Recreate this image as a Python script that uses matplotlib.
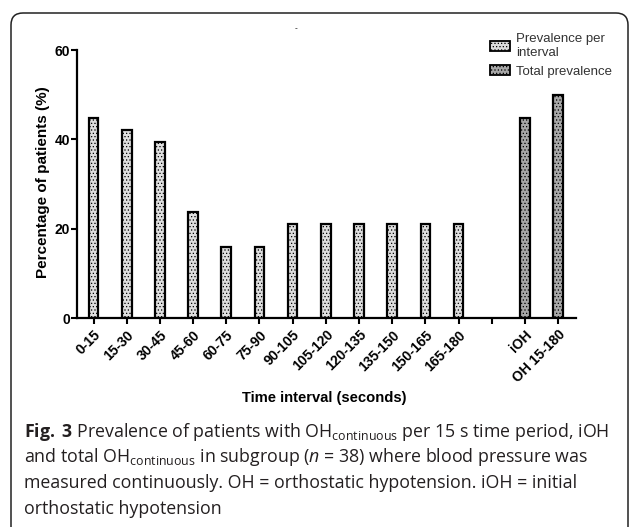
import matplotlib
matplotlib.use("Agg")
import matplotlib.pyplot as plt
import numpy as np
from matplotlib.patches import FancyBboxPatch, Patch
from matplotlib.transforms import IdentityTransform

# Data
interval_labels = ['0-15', '15-30', '30-45', '45-60', '60-75', '75-90', '90-105',
                   '105-120', '120-135', '135-150', '150-165', '165-180']
interval_values = [44.7, 42.1, 39.5, 23.7, 15.8, 15.8, 21.1, 21.1, 21.1, 21.1, 21.1, 21.1]
total_labels = ['iOH', 'OH 15-180']
total_values = [44.7, 50.0]

plt.rcParams['font.family'] = ['Liberation Sans', 'DejaVu Sans']
plt.rcParams['mathtext.fontset'] = 'custom'
plt.rcParams['mathtext.rm'] = 'Open Sans'
plt.rcParams['mathtext.it'] = 'Open Sans:italic'
plt.rcParams['mathtext.bf'] = 'Open Sans:bold'
plt.rcParams['hatch.color'] = '#808080'
plt.rcParams['hatch.linewidth'] = 0.5

fig = plt.figure(figsize=(6.3, 5.27), dpi=100)
# axes box in pixels: x 77..576, y 50..318
ax = fig.add_axes([77 / 630, 1 - 318 / 527, 499 / 630, 268 / 527])

x_int = np.arange(len(interval_labels))
x_tot = len(interval_labels) + 1 + np.arange(len(total_labels))

ax.bar(x_int, interval_values, width=0.29, color='#dedede', edgecolor='black',
       linewidth=1.6, hatch='.....')
ax.bar(x_tot, total_values, width=0.29, color='#a8a8a8', edgecolor='black',
       linewidth=1.6, hatch='.....')

ticks = list(x_int) + [len(interval_labels)] + list(x_tot)
tick_labels = interval_labels + [''] + total_labels
ax.set_xticks(ticks)
ax.set_xticklabels(tick_labels, rotation=45, ha='right', rotation_mode='anchor',
                   fontsize=10, fontweight='bold')
ax.set_xlim(-0.5, 14.54)
ax.set_ylim(0, 60)
ax.set_yticks([0, 20, 40, 60])
ax.tick_params(axis='y', labelsize=10, width=1.5, length=4, pad=1)
ax.tick_params(axis='x', width=1.5, length=4, pad=3)
for t in ax.get_yticklabels():
    t.set_fontweight('bold')
for s in ['top', 'right']:
    ax.spines[s].set_visible(False)
for s in ['left', 'bottom']:
    ax.spines[s].set_linewidth(1.6)

fig.text(43 / 630, 1 - 182 / 527, 'Percentage of patients (%)', rotation=90,
         ha='center', va='center', fontsize=11, fontweight='bold')
fig.text(324 / 630, 1 - 398 / 527, 'Time interval (seconds)', ha='center', va='center',
         fontsize=10.6, fontweight='bold')
fig.text(296 / 630, 1 - 29 / 527, '-', ha='center', va='center', fontsize=6)

handles = [Patch(facecolor='#dedede', edgecolor='black', linewidth=1.3, hatch='.....'),
           Patch(facecolor='#a8a8a8', edgecolor='black', linewidth=1.3, hatch='.....')]
fig.legend(handles, ['Prevalence per\ninterval', 'Total prevalence'],
           loc='upper left', bbox_to_anchor=(478 / 630, 1 - 21 / 527), frameon=False,
           fontsize=9.5, handlelength=1.5, handleheight=0.75, handletextpad=0.5,
           labelspacing=0.5, labelcolor='#333333')

# frame
frame = FancyBboxPatch((11, -60), 617, 527 - 13 + 60, boxstyle='round,pad=0,rounding_size=12',
                       transform=IdentityTransform(), facecolor='none', edgecolor='#222222',
                       linewidth=1.1, clip_on=False)
fig.patches.append(frame)

caption = [
    r'$\mathbf{Fig.}$ $\mathbf{3}$ Prevalence of patients with OH$_{\mathrm{continuous}}$ per 15 s time period, iOH',
    r'and total OH$_{\mathrm{continuous}}$ in subgroup ($\mathit{n}$ = 38) where blood pressure was',
    'measured continuously. OH = orthostatic hypotension. iOH = initial',
    'orthostatic hypotension',
]
for i, line in enumerate(caption):
    fig.text(24 / 630, 1 - (432 + 25.5 * i) / 527, line, ha='left', va='center',
             fontsize=12.8, family='Open Sans', color='#231f20')

fig.savefig('out.png', dpi=100)
